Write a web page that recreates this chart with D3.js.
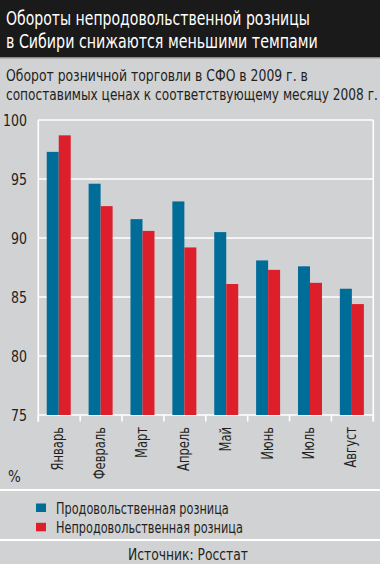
<!DOCTYPE html>
<html><head><meta charset="utf-8">
<script src="https://cdn.jsdelivr.net/npm/d3@7"></script>
<style>
html,body{margin:0;padding:0;background:#d1d2d4;}
svg{display:block;}
text{font-family:"DejaVu Sans Condensed","Liberation Sans Narrow","Roboto",sans-serif;}
</style></head>
<body><div id="chart"></div>
<script>
const months = ["Январь","Февраль","Март","Апрель","Май","Июнь","Июль","Август"];
const foodValues = [97.3, 94.6, 91.6, 93.1, 90.5, 88.1, 87.6, 85.7];
const nonFoodValues = [98.7, 92.7, 90.6, 89.2, 86.1, 87.3, 86.2, 84.4];
const yTicks = [75, 80, 85, 90, 95, 100];
const seriesNames = ["Продовольственная розница","Непродовольственная розница"];
const titleLines = ["Обороты непродовольственной розницы","в Сибири снижаются меньшими темпами"];
const subtitleLines = ["Оборот розничной торговли в СФО в 2009 г. в","сопоставимых ценах к соответствующему месяцу 2008 г."];
const sourceText = "Источник: Росстат";

const W = 380, H = 564;
const colors = ["#006d98", "#dc1f2b"];
const textColor = "#231f20";

const svg = d3.select("#chart").append("svg").attr("width", W).attr("height", H);
svg.append("rect").attr("width", W).attr("height", H).attr("fill", "#d1d2d4");

// horizontal compression helper: scale text so that its width equals target
function fit(sel, tx, ty, target, extra) {
  sel.each(function(d, i) {
    const t = typeof target === "function" ? target(d, i) : target;
    const px = typeof tx === "function" ? tx(d, i) : tx;
    const py = typeof ty === "function" ? ty(d, i) : ty;
    const w = this.getComputedTextLength();
    const k = t / w;
    d3.select(this).attr("x", 0).attr("y", 0)
      .attr("transform", `translate(${px},${py})${extra || ""} scale(${k},1)`);
  });
}

// title band
svg.append("rect").attr("x",0).attr("y",0).attr("width",W).attr("height",57).attr("fill","#1b1a1a");
svg.append("rect").attr("x",0).attr("y",57).attr("width",W).attr("height",1.5).attr("fill","#8c8c8c");
const titleLens = [304, 312];
const tt = svg.selectAll("text.title").data(titleLines).enter().append("text")
  .attr("class","title").attr("fill","#ffffff").attr("font-size",20)
  .text(d=>d);
fit(tt, 6, (d,i)=>24.5+i*23, (d,i)=>titleLens[i]);

const subLens = [302, 372];
const st = svg.selectAll("text.sub").data(subtitleLines).enter().append("text")
  .attr("class","sub").attr("fill",textColor).attr("font-size",16.5)
  .text(d=>d);
fit(st, 6, (d,i)=>81+i*19, (d,i)=>subLens[i]);

// scales
const x = d3.scaleBand().domain(months).range([38.3, 373.3]).paddingInner(0).paddingOuter(0);
const y = d3.scaleLinear().domain([75, 100]).range([415, 120]);
const barW = 12;

// grid
const g = svg.append("g");
g.selectAll("line.grid").data(yTicks).enter().append("line")
  .attr("x1", x.range()[0]).attr("x2", x.range()[1])
  .attr("y1", d=>y(d)).attr("y2", d=>y(d))
  .attr("stroke","#ffffff").attr("stroke-width",1.6);
[x.range()[0], x.range()[1]].forEach(xx=>{
  g.append("line").attr("x1",xx).attr("x2",xx).attr("y1",y(100)).attr("y2",421.5)
    .attr("stroke","#ffffff").attr("stroke-width",1.6);
});
const bounds = months.map(m=>x(m)).concat([x.range()[1]]);
g.selectAll("line.xt").data(bounds).enter().append("line")
  .attr("x1",d=>d).attr("x2",d=>d).attr("y1",y(75)).attr("y2",421.5)
  .attr("stroke","#ffffff").attr("stroke-width",1.6);

// y labels
const yl = g.selectAll("text.yl").data(yTicks).enter().append("text")
  .attr("text-anchor","end").attr("fill",textColor).attr("font-size",15)
  .text(d=>d);
{
  const w100 = yl.filter(d=>d===100).node().getComputedTextLength();
  const k = 24 / w100;
  yl.attr("x",0).attr("y",0).attr("transform", d=>`translate(27,${y(d)+5.5}) scale(${k},1)`);
}

// bars
const cx = m => x(m) + x.bandwidth()/2 - 0.5;
g.selectAll("rect.food").data(months).enter().append("rect")
  .attr("x",m=>cx(m)-barW).attr("width",barW)
  .attr("y",(m,i)=>y(foodValues[i])).attr("height",(m,i)=>y(75)-y(foodValues[i]))
  .attr("fill",colors[0]);
g.selectAll("rect.nonfood").data(months).enter().append("rect")
  .attr("x",m=>cx(m)).attr("width",barW)
  .attr("y",(m,i)=>y(nonFoodValues[i])).attr("height",(m,i)=>y(75)-y(nonFoodValues[i]))
  .attr("fill",colors[1]);

// month labels
const ml = g.selectAll("text.ml").data(months).enter().append("text")
  .attr("text-anchor","end").attr("fill",textColor).attr("font-size",15)
  .text(m=>m);
{
  const wJan = ml.filter(m=>m==="Январь").node().getComputedTextLength();
  const k = 43.5 / wJan;
  ml.attr("x",0).attr("y",0).attr("transform", m=>`translate(${cx(m)+4.5},427) rotate(-90) scale(${k},1)`);
}

svg.append("text").attr("x",8).attr("y",482).attr("fill",textColor).attr("font-size",15).text("%");

// separators
[490, 540].forEach(yy=>{
  svg.append("line").attr("x1",0).attr("x2",W).attr("y1",yy).attr("y2",yy)
    .attr("stroke","#ffffff").attr("stroke-width",2);
});

// legend
const legLens = [173, 187];
const leg = svg.selectAll("g.leg").data(seriesNames).enter().append("g")
  .attr("transform",(d,i)=>`translate(0,${i*19.3})`);
leg.append("rect").attr("x",36).attr("y",503.5).attr("width",10).attr("height",8.5)
  .attr("fill",(d,i)=>colors[i]);
const lt = leg.append("text").attr("fill",textColor).attr("font-size",16)
  .text(d=>d);
fit(lt, 56, 513.5, (d,i)=>legLens[i]);

const src = svg.append("text").attr("text-anchor","middle")
  .attr("fill",textColor).attr("font-size",16.5)
  .text(sourceText);
fit(src, 188, 560, 120);
</script></body></html>
